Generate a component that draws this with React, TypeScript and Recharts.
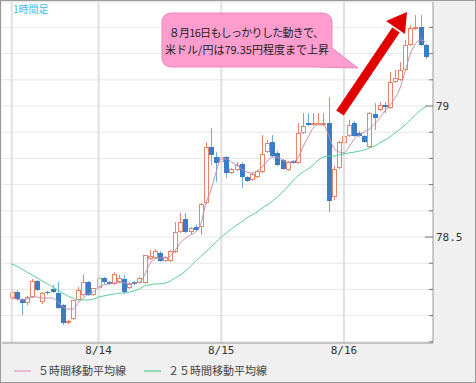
import { ComposedChart, Bar, Line, XAxis, YAxis, CartesianGrid, ReferenceLine } from 'recharts'

// hourly candles, 8/13 07:00 .. 8/16 16:00
const opens = [
  78.267, 78.290, 78.263, 78.248, 78.271, 78.332, 78.252, 78.290, 78.302, 78.286,
  78.240, 78.172, 78.187, 78.260, 78.279, 78.328, 78.279, 78.305, 78.344, 78.328,
  78.321, 78.328, 78.340, 78.305, 78.328, 78.325, 78.325, 78.416, 78.420, 78.439,
  78.408, 78.408, 78.443, 78.519, 78.569, 78.519, 78.538, 78.538, 78.630, 78.843,
  78.805, 78.786, 78.805, 78.744, 78.756, 78.779, 78.729, 78.718, 78.729, 78.748,
  78.824, 78.863, 78.821, 78.794, 78.756, 78.790, 78.782, 78.897, 78.935, 78.928,
  78.932, 78.928, 78.935, 78.653, 78.763, 78.859, 78.885, 78.935, 78.897, 78.885,
  78.843, 78.969, 78.985, 79.004, 78.992, 79.092, 79.099, 79.137, 79.233, 79.294,
  79.302, 79.233,
]
const highs = [
  78.302, 78.298, 78.267, 78.275, 78.340, 78.336, 78.290, 78.294, 78.317, 78.328,
  78.244, 78.183, 78.260, 78.309, 78.357, 78.332, 78.290, 78.350, 78.348, 78.332,
  78.366, 78.355, 78.355, 78.328, 78.332, 78.348, 78.431, 78.450, 78.454, 78.447,
  78.427, 78.450, 78.557, 78.592, 78.592, 78.538, 78.546, 78.630, 78.863, 78.916,
  78.824, 78.843, 78.809, 78.763, 78.786, 78.786, 78.733, 78.744, 78.756, 78.889,
  78.870, 78.889, 78.828, 78.798, 78.790, 78.794, 78.935, 78.973, 78.973, 78.973,
  78.973, 78.973, 79.034, 78.771, 78.867, 78.885, 78.947, 78.943, 78.905, 78.889,
  78.977, 79.011, 79.015, 79.015, 79.130, 79.137, 79.168, 79.252, 79.309, 79.347,
  79.347, 79.237,
]
const lows = [
  78.260, 78.256, 78.202, 78.240, 78.267, 78.294, 78.244, 78.279, 78.286, 78.225,
  78.164, 78.168, 78.183, 78.256, 78.275, 78.275, 78.275, 78.302, 78.321, 78.317,
  78.317, 78.325, 78.283, 78.302, 78.317, 78.321, 78.321, 78.413, 78.416, 78.405,
  78.405, 78.405, 78.439, 78.515, 78.515, 78.511, 78.523, 78.508, 78.626, 78.775,
  78.710, 78.782, 78.725, 78.741, 78.752, 78.687, 78.710, 78.714, 78.725, 78.744,
  78.821, 78.805, 78.771, 78.756, 78.752, 78.779, 78.779, 78.893, 78.924, 78.924,
  78.928, 78.924, 78.596, 78.641, 78.759, 78.855, 78.882, 78.882, 78.882, 78.859,
  78.840, 78.908, 78.981, 78.973, 78.988, 79.088, 79.095, 79.134, 79.229, 79.290,
  79.229, 79.179,
]
const closes = [
  78.290, 78.263, 78.248, 78.271, 78.332, 78.298, 78.286, 78.288, 78.290, 78.229,
  78.172, 78.179, 78.260, 78.298, 78.328, 78.279, 78.305, 78.344, 78.328, 78.321,
  78.359, 78.344, 78.290, 78.321, 78.321, 78.344, 78.431, 78.427, 78.447, 78.408,
  78.424, 78.447, 78.519, 78.557, 78.519, 78.534, 78.527, 78.626, 78.843, 78.813,
  78.782, 78.805, 78.744, 78.760, 78.775, 78.729, 78.714, 78.741, 78.752, 78.817,
  78.859, 78.809, 78.775, 78.760, 78.786, 78.782, 78.897, 78.924, 78.928, 78.935,
  78.935, 78.935, 78.637, 78.760, 78.863, 78.885, 78.928, 78.885, 78.885, 78.863,
  78.973, 78.954, 79.004, 78.996, 79.092, 79.107, 79.137, 79.233, 79.298, 79.302,
  79.233, 79.187,
]
const ma5 = [
  78.267, 78.263, 78.260, 78.263, 78.271, 78.271, 78.267, 78.267, 78.267, 78.252,
  78.233, 78.225, 78.225, 78.248, 78.267, 78.282, 78.290, 78.309, 78.317, 78.321,
  78.325, 78.325, 78.325, 78.321, 78.325, 78.328, 78.355, 78.397, 78.416, 78.420,
  78.420, 78.427, 78.450, 78.477, 78.496, 78.508, 78.519, 78.550, 78.630, 78.679,
  78.748, 78.798, 78.798, 78.786, 78.775, 78.760, 78.748, 78.744, 78.752, 78.767,
  78.790, 78.805, 78.805, 78.794, 78.786, 78.786, 78.802, 78.844, 78.882, 78.916,
  78.928, 78.928, 78.889, 78.840, 78.825, 78.821, 78.844, 78.874, 78.889, 78.901,
  78.912, 78.931, 78.954, 78.981, 79.004, 79.031, 79.069, 79.134, 79.199, 79.237,
  79.252, 79.244,
]
const ma25 = [
  78.397, 78.389, 78.378, 78.366, 78.355, 78.344, 78.332, 78.321, 78.309, 78.298,
  78.286, 78.275, 78.267, 78.260, 78.260, 78.260, 78.263, 78.271, 78.275, 78.279,
  78.282, 78.286, 78.286, 78.290, 78.294, 78.302, 78.313, 78.317, 78.321, 78.321,
  78.324, 78.332, 78.344, 78.355, 78.370, 78.389, 78.408, 78.427, 78.443, 78.462,
  78.481, 78.500, 78.515, 78.531, 78.546, 78.557, 78.573, 78.584, 78.595, 78.611,
  78.622, 78.637, 78.653, 78.672, 78.691, 78.714, 78.733, 78.748, 78.760, 78.775,
  78.794, 78.805, 78.809, 78.809, 78.813, 78.817, 78.821, 78.824, 78.828, 78.832,
  78.840, 78.847, 78.859, 78.870, 78.882, 78.897, 78.912, 78.928, 78.947, 78.966,
  78.985, 78.996,
]

const dayTicks = [17, 41, 65]
const dayLabels = ['8/14', '8/15', '8/16']
const priceTicks = [78.1, 78.2, 78.3, 78.4, 78.5, 78.6, 78.7, 78.8, 78.9, 79.0, 79.1, 79.2, 79.3]
const priceLabels: Record<string, string> = { '78.5': '78.5', '79': '79' }

const data = closes.map((c, i) => ({
  i, open: opens[i], high: highs[i], low: lows[i], close: c, ma5: ma5[i], ma25: ma25[i],
}))

const UP = '#e8846c'
const DOWN = '#3b7cc4'
const DOWN_WICK = '#6eaedc'
const MONO = "'DejaVu Sans Mono', monospace"
const JP = "'Noto Sans CJK JP', sans-serif"

function Candle(p: any) {
  const { x, y, width, height, payload } = p
  if (x == null || y == null) return null
  const top = Math.min(y, y + height), h = Math.abs(height)
  const { open, high, low, close } = payload
  const py = (v: number) => top + ((high - v) / (high - low)) * h
  const up = close >= open
  const cx = Math.round(x + width / 2) + 0.5
  const bt = Math.round(py(Math.max(open, close)))
  const bb = Math.max(Math.round(py(Math.min(open, close))), bt + 1)
  if (up) {
    return (
      <g>
        <line x1={cx} x2={cx} y1={top} y2={top + h} stroke={UP} />
        <rect x={cx - 2} y={bt + 0.5} width={4} height={Math.max(bb - bt - 1, 0.5)} fill="#fff" stroke={UP} />
      </g>
    )
  }
  return (
    <g>
      <line x1={cx} x2={cx} y1={top} y2={top + h} stroke={DOWN_WICK} />
      <rect x={cx - 2.5} y={bt} width={5} height={bb - bt} fill={DOWN} />
    </g>
  )
}

function RightTick(p: any) {
  const { x, y, payload } = p
  const label = priceLabels[String(payload.value)]
  return (
    <g>
      <line x1={x - (label ? 8 : 4)} x2={x} y1={y} y2={y} stroke="#777" />
      {label && (
        <text x={x + 3} y={y} dy="0.35em" fontFamily={MONO} fontSize={11} fill="#333">{label}</text>
      )}
    </g>
  )
}

function LeftTick(p: any) {
  const { x, y } = p
  return <line x1={x} x2={x + 4} y1={y} y2={y} stroke="#555" />
}

function DayTick(p: any) {
  const { x, y, payload } = p
  return (
    <text x={x} y={y + 3} dy="0.71em" textAnchor="middle" fontFamily={MONO} fontSize={11} fill="#333">
      {dayLabels[dayTicks.indexOf(payload.value)]}
    </text>
  )
}

export default function App() {
  return (
    <div style={{ position: 'absolute', left: 0, top: 0, width: 476, height: 383, background: '#f0f0f0' }}>
      <ComposedChart width={476} height={383} data={data} margin={{ top: 2, right: 0, left: 2, bottom: 0 }}>
        <CartesianGrid yAxisId="r" vertical={false} stroke="#e6e6e6" fill="#fff" />
        <XAxis
          dataKey="i" type="number" domain={[-1.9, 82.43]} allowDataOverflow
          ticks={dayTicks} tick={<DayTick />} tickLine={false} tickSize={0} tickMargin={0}
          axisLine={{ stroke: '#999' }} height={40}
        />
        <YAxis
          yAxisId="r" orientation="right" domain={[78.0955, 79.397]} allowDataOverflow
          ticks={priceTicks} tick={<RightTick />} tickLine={false} tickSize={0} tickMargin={0}
          axisLine={{ stroke: '#999' }} width={43}
        />
        <YAxis
          yAxisId="l" orientation="left" domain={[78.0955, 79.397]} allowDataOverflow
          ticks={priceTicks} tick={<LeftTick />} tickLine={false} tickSize={0} tickMargin={0}
          axisLine={{ stroke: '#777' }} width={0}
        />
        {[0, ...dayTicks].map(t => (
          <ReferenceLine key={t} yAxisId="r" x={t} stroke="#e0e0e0" strokeWidth={2} />
        ))}
        <Bar yAxisId="r" dataKey={(d: any) => [d.low, d.high]} barSize={5} shape={<Candle />} isAnimationActive={false} />
        <Line yAxisId="r" type="monotone" dataKey="ma25" stroke="#5ccb98" strokeWidth={1} dot={false} isAnimationActive={false} />
        <Line yAxisId="r" type="monotone" dataKey="ma5" stroke="#c98cb0" strokeWidth={1} dot={false} isAnimationActive={false} />
      </ComposedChart>

      <svg width={476} height={383} style={{ position: 'absolute', left: 0, top: 0, pointerEvents: 'none' }}>
        <text x={13} y={9} dy="0.35em" fontFamily={JP} fontSize={10} fill="#3cbcec">1時間足</text>

        <path
          d="M172,13 H322 Q332,13 332,23 V48 L358,68 L314,67 H172 Q162,67 162,57 V23 Q162,13 172,13 Z"
          fill="#ff9dcf" stroke="#ee86bc"
        />
        <text x={246} y={33} dy="0.35em" textAnchor="middle" fontFamily={JP} fontSize={11} letterSpacing={-0.7} fill="#222">８月16日もしっかりした動きで、</text>
        <text x={247} y={50} dy="0.35em" textAnchor="middle" fontFamily={JP} fontSize={11} fill="#222">米ドル/円は79.35円程度まで上昇</text>

        <line x1={340} y1={113} x2={396} y2={30} stroke="#e00000" strokeWidth={9} />
        <polygon points="407,12 386,21 405,34" fill="#e00000" />

        <line x1={14} x2={31} y1={371} y2={371} stroke="#e8a8c4" strokeWidth={1.5} />
        <text x={38} y={371} dy="0.35em" fontFamily={JP} fontSize={11} fill="#444">５時間移動平均線</text>
        <line x1={144} x2={161} y1={371} y2={371} stroke="#72d2a8" strokeWidth={1.5} />
        <text x={168} y={371} dy="0.35em" fontFamily={JP} fontSize={11} fill="#444">２５時間移動平均線</text>
      </svg>
      <div style={{ position: 'absolute', inset: 0, border: '1px solid #9a9a9a', pointerEvents: 'none' }} />
    </div>
  )
}
